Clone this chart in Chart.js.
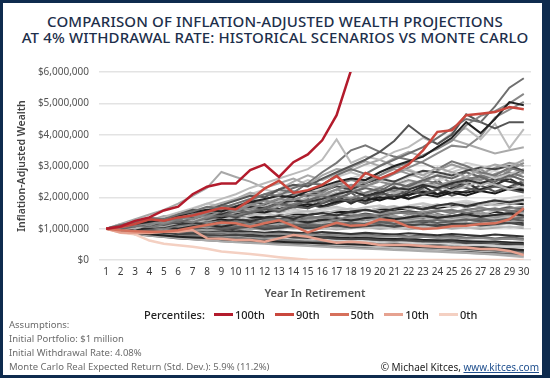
<!DOCTYPE html>
<html>
<head>
<meta charset="utf-8">
<script src="https://cdn.jsdelivr.net/npm/chart.js@4.4.1/dist/chart.umd.min.js"></script>
<style>
html,body{margin:0;padding:0;}
body{width:550px;height:378px;background:#0e2b4e;position:relative;overflow:hidden;font-family:"Noto Sans",sans-serif;}
#panel{position:absolute;left:3px;top:3px;width:539px;height:372px;background:#fff;}
#title{position:absolute;left:0;top:13px;width:550px;text-align:center;color:#1d2f4b;font-weight:500;font-size:15px;line-height:16px;letter-spacing:0.15px;}
#wrap{position:absolute;left:0;top:0;width:550px;height:378px;}
#legend{position:absolute;left:144px;top:306px;height:16px;display:flex;align-items:center;font-size:11px;font-weight:500;color:#222;}
#legend .lab{margin-right:9px;}
#legend .item{display:flex;align-items:center;margin-right:10px;}
#legend .sw{width:19px;height:3px;margin-right:2px;}
#notes{position:absolute;left:9px;top:318px;font-size:9.5px;line-height:14px;color:#6b6b6b;}
#credit{position:absolute;right:11px;top:360px;font-size:10px;line-height:14px;color:#222;}
#credit a{color:#1f4f8e;text-decoration:underline;}
</style>
</head>
<body>
<div id="panel"></div>
<div id="title">COMPARISON OF INFLATION-ADJUSTED WEALTH PROJECTIONS<br>AT 4% WITHDRAWAL RATE: HISTORICAL SCENARIOS VS MONTE CARLO</div>
<div id="wrap"><canvas id="c" width="550" height="378"></canvas></div>
<div id="legend"></div>
<div id="notes">Assumptions:<br>Initial Portfolio: $1 million<br>Initial Withdrawal Rate: 4.08%<br>Monte Carlo Real Expected Return (Std. Dev.): 5.9% (11.2%)</div>
<div id="credit">© Michael Kitces, <a>www.kitces.com</a></div>
<script>
// ---- data (values in $ millions, inflation-adjusted) ----
const years = ['1','2','3','4','5','6','7','8','9','10','11','12','13','14','15','16','17','18','19','20','21','22','23','24','25','26','27','28','29','30'];
const yTicks = [0,1000000,2000000,3000000,4000000,5000000,6000000];

const percentileLabels = ['100th','90th','50th','10th','0th'];
const p100 = [1.00,1.07,1.25,1.36,1.58,1.70,2.10,2.34,2.44,2.44,2.87,3.05,2.65,3.12,3.37,3.82,4.62,6.05,6.90,7.60,8.30,9.00,9.80,10.6,11.5,12.4,13.3,14.2,15.2,16.3];
const p90  = [1.00,1.05,1.15,1.30,1.25,1.36,1.42,1.54,1.66,1.62,1.91,2.28,2.53,2.14,2.23,2.40,2.68,2.28,2.78,2.60,2.79,3.05,3.50,4.09,4.14,4.62,4.67,4.72,4.88,4.81];
const p50  = [1.00,0.95,0.92,0.90,0.90,0.95,1.04,1.12,1.20,1.17,1.06,1.17,1.27,1.09,0.88,1.04,1.19,1.09,1.12,1.30,1.25,1.06,0.99,1.01,1.08,1.09,1.15,1.17,1.30,1.65];
const p10  = [1.00,0.88,0.86,0.86,0.90,0.90,0.96,0.69,0.68,0.64,0.64,0.58,0.69,0.80,0.74,0.64,0.55,0.58,0.55,0.48,0.48,0.48,0.45,0.42,0.40,0.40,0.35,0.35,0.29,0.16];
const p0   = [1.00,0.87,0.82,0.62,0.52,0.47,0.42,0.36,0.27,0.23,0.19,0.14,0.09,0.05,0.01,0,0,0,0,0,0,0,0,0,0,0,0,0,0,0];

const scenarios = [
 [1.00,1.12,1.20,1.35,1.30,1.45,1.55,1.70,1.65,1.80,1.95,2.10,2.05,2.30,2.45,2.40,2.70,2.90,2.75,3.00,3.20,3.40,3.60,3.90,4.20,4.50,4.40,4.90,5.50,5.80],
 [1.00,1.08,1.15,1.22,1.30,1.40,1.52,1.60,1.55,1.70,1.85,1.95,2.05,2.00,2.20,2.35,2.50,2.60,2.55,2.80,3.00,3.15,3.30,3.60,3.90,4.40,4.05,4.50,5.04,4.94],
 [1.00,1.05,1.18,1.10,1.25,1.38,1.30,1.50,1.62,1.55,1.75,1.90,1.80,2.05,2.20,2.15,2.40,2.55,2.45,2.70,2.95,3.10,3.35,3.55,3.80,4.30,4.60,4.75,5.00,5.30],
 [1.00,1.10,1.22,1.30,1.25,1.45,1.60,1.55,1.75,1.90,2.05,2.00,2.25,2.40,2.35,2.60,2.80,3.00,3.20,3.45,3.80,4.30,3.95,3.70,4.00,4.65,4.40,4.20,4.40,4.40],
 [1.00,1.06,1.15,1.28,1.35,1.50,1.62,1.80,1.95,2.10,2.30,2.45,2.60,2.75,2.90,3.20,3.85,3.10,3.30,3.20,3.45,3.60,3.90,3.70,4.05,4.20,3.85,4.35,3.57,4.18],
 [1.00,1.15,1.30,1.45,1.60,1.80,2.05,2.30,2.81,2.65,2.50,2.30,2.45,2.60,2.40,2.70,2.90,2.85,3.05,3.20,3.00,2.85,2.70,2.95,2.80,2.65,2.90,3.05,2.95,3.20],
 [1.00,1.12,1.08,1.20,1.32,1.28,1.45,1.60,1.75,1.70,1.90,2.10,2.25,2.15,2.45,2.80,3.10,3.50,3.66,3.45,3.30,3.20,3.10,2.90,3.15,3.00,2.80,2.70,2.95,2.80],
 [1.00,1.04,1.12,1.20,1.18,1.30,1.42,1.38,1.55,1.68,1.62,1.80,1.95,1.90,2.10,2.05,2.25,2.40,2.35,2.55,2.75,2.95,3.15,3.40,3.65,3.60,3.95,4.55,4.80,5.05],
 [1.00,1.09,1.17,1.26,1.40,1.36,1.50,1.68,1.82,1.95,2.15,2.00,2.25,2.50,2.70,2.55,2.75,2.95,3.15,3.00,3.25,3.45,3.30,3.60,3.85,3.70,3.55,3.40,3.50,3.60],
 [1.00,1.10,1.18,1.28,1.20,1.35,1.48,1.60,1.55,1.72,1.85,1.78,1.95,2.10,2.05,2.20,2.35,2.25,2.45,2.60,2.50,2.70,2.85,2.80,2.70,2.85,2.95,2.90,3.00,2.85],
 [1.00,1.05,1.15,1.22,1.35,1.45,1.40,1.55,1.70,1.62,1.80,1.92,2.10,2.20,2.05,2.25,2.45,2.30,2.55,2.70,2.90,2.75,2.60,2.85,3.05,2.90,2.75,2.95,3.10,3.00],
 [1.00,0.98,1.08,1.18,1.25,1.20,1.32,1.45,1.40,1.58,1.50,1.65,1.80,1.72,1.90,2.05,1.95,2.15,2.30,2.20,2.45,2.35,2.55,2.70,2.60,2.80,2.65,2.50,2.70,2.55],
 [1.00,1.12,1.25,1.20,1.38,1.52,1.65,1.80,1.72,1.95,2.10,2.25,2.15,2.35,2.55,2.40,2.65,2.80,2.65,2.50,2.75,2.90,2.70,2.55,2.80,2.95,2.80,2.60,2.75,2.90],
 [1.00,1.06,1.14,1.10,1.22,1.30,1.42,1.50,1.45,1.58,1.70,1.65,1.82,1.90,1.85,1.95,2.10,2.20,2.05,2.15,2.30,2.25,2.40,2.30,2.45,2.55,2.45,2.60,2.50,2.40],
 [1.00,1.02,1.10,1.05,1.15,1.25,1.20,1.35,1.48,1.42,1.55,1.68,1.60,1.78,1.92,1.85,2.05,1.95,2.15,2.30,2.20,2.40,2.55,2.45,2.35,2.55,2.70,2.60,2.80,2.65],
 [1.00,1.08,1.00,1.12,1.20,1.30,1.25,1.40,1.52,1.65,1.58,1.72,1.88,1.80,2.00,2.15,2.05,2.25,2.40,2.30,2.15,2.30,2.45,2.35,2.20,2.35,2.50,2.40,2.25,2.35],
 [1.00,1.04,1.10,1.18,1.12,1.22,1.35,1.30,1.42,1.38,1.50,1.62,1.55,1.70,1.65,1.80,1.95,1.88,2.00,2.12,2.05,2.20,2.10,2.25,2.40,2.30,2.20,2.35,2.25,2.15],
 [1.00,1.14,1.24,1.36,1.30,1.44,1.58,1.50,1.66,1.80,1.95,1.85,2.00,2.20,2.10,2.30,2.45,2.60,2.75,2.60,2.45,2.65,2.80,2.70,2.90,3.10,3.00,2.85,3.05,3.15],
 [1.00,1.03,1.08,1.15,1.22,1.18,1.28,1.38,1.35,1.45,1.55,1.52,1.62,1.70,1.78,1.72,1.85,1.95,1.90,2.00,1.95,2.08,2.18,2.10,2.20,2.15,2.25,2.35,2.30,2.25],
 [1.00,1.10,1.05,1.15,1.28,1.22,1.38,1.52,1.45,1.60,1.75,1.68,1.82,1.95,1.90,2.10,2.25,2.15,2.35,2.50,2.40,2.55,2.45,2.30,2.50,2.65,2.55,2.75,2.90,3.10],
 [1.00,0.96,1.04,1.12,1.08,1.18,1.30,1.26,1.38,1.50,1.45,1.60,1.72,1.66,1.80,1.92,2.05,1.98,2.12,2.25,2.18,2.32,2.45,2.38,2.52,2.45,2.60,2.70,2.62,2.78],
 [1.00,1.05,1.02,1.10,1.06,1.14,1.20,1.12,1.22,1.30,1.24,1.34,1.40,1.32,1.44,1.50,1.42,1.55,1.60,1.52,1.64,1.70,1.62,1.74,1.80,1.72,1.82,1.90,1.84,1.92],
 [1.00,0.97,1.03,1.08,1.00,1.10,1.16,1.08,1.18,1.24,1.15,1.26,1.30,1.22,1.34,1.38,1.28,1.40,1.45,1.36,1.48,1.52,1.44,1.55,1.60,1.50,1.58,1.65,1.56,1.62],
 [1.00,1.08,1.14,1.06,1.16,1.24,1.18,1.28,1.36,1.30,1.40,1.48,1.40,1.50,1.56,1.48,1.58,1.64,1.55,1.66,1.72,1.62,1.70,1.78,1.68,1.76,1.82,1.74,1.80,1.86],
 [1.00,1.00,0.96,1.02,1.06,1.00,1.08,1.12,1.06,1.14,1.20,1.15,1.22,1.26,1.20,1.28,1.32,1.26,1.34,1.38,1.30,1.36,1.42,1.35,1.40,1.46,1.38,1.44,1.48,1.42],
 [1.00,0.94,0.98,1.04,0.98,1.06,1.10,1.04,1.12,1.18,1.10,1.20,1.16,1.24,1.30,1.22,1.28,1.35,1.28,1.34,1.40,1.32,1.38,1.45,1.36,1.42,1.48,1.40,1.46,1.52],
 [1.00,1.04,0.98,0.94,1.00,0.96,1.02,1.06,1.00,1.05,1.10,1.04,1.08,1.14,1.08,1.12,1.18,1.12,1.16,1.22,1.15,1.20,1.26,1.18,1.24,1.30,1.22,1.26,1.32,1.25],
 [1.00,1.06,1.12,1.20,1.28,1.22,1.32,1.40,1.34,1.44,1.52,1.46,1.56,1.62,1.54,1.64,1.70,1.60,1.68,1.74,1.64,1.72,1.80,1.70,1.78,1.84,1.74,1.82,1.88,1.95],
 [1.00,0.98,0.94,0.98,1.02,0.96,1.00,1.04,0.98,1.02,1.06,1.00,1.04,1.08,1.02,1.06,1.10,1.04,1.08,1.12,1.06,1.10,1.14,1.08,1.12,1.16,1.10,1.14,1.18,1.12],
 [1.00,1.02,1.08,1.04,1.10,1.16,1.12,1.18,1.24,1.18,1.26,1.32,1.26,1.34,1.40,1.34,1.42,1.48,1.40,1.46,1.54,1.46,1.52,1.60,1.52,1.58,1.66,1.58,1.64,1.70],
 [1.00,1.04,1.10,1.16,1.14,1.20,1.26,1.30,1.28,1.34,1.38,1.36,1.42,1.46,1.44,1.50,1.54,1.52,1.58,1.62,1.60,1.64,1.70,1.66,1.72,1.76,1.74,1.80,1.82,1.78],
 [1.00,0.95,0.92,0.96,0.90,0.95,1.00,0.94,0.98,1.04,0.98,1.02,1.08,1.02,1.06,1.12,1.06,1.10,1.16,1.10,1.14,1.20,1.14,1.18,1.24,1.18,1.22,1.28,1.22,1.26],
 [1.00,1.06,1.02,1.08,1.14,1.08,1.14,1.20,1.14,1.20,1.26,1.18,1.24,1.30,1.22,1.28,1.34,1.26,1.32,1.38,1.30,1.36,1.42,1.34,1.40,1.46,1.38,1.44,1.50,1.56],
 [1.00,1.10,1.04,1.14,1.22,1.16,1.26,1.34,1.28,1.38,1.46,1.38,1.48,1.56,1.48,1.58,1.66,1.56,1.66,1.74,1.64,1.74,1.82,1.72,1.82,1.90,1.80,1.90,1.98,2.05],
 [1.00,0.96,1.00,0.95,0.99,1.04,0.98,1.03,1.08,1.02,1.07,1.12,1.06,1.11,1.16,1.10,1.15,1.20,1.14,1.19,1.24,1.18,1.23,1.28,1.22,1.27,1.32,1.26,1.31,1.36],
 [1.00,0.98,1.02,0.97,1.02,1.07,1.01,1.06,1.12,1.06,1.12,1.18,1.10,1.16,1.22,1.15,1.20,1.26,1.18,1.24,1.30,1.22,1.28,1.34,1.26,1.32,1.38,1.30,1.36,1.30],
 [1.00,0.99,0.95,0.92,0.96,0.93,0.97,1.01,0.96,1.00,1.04,0.99,1.03,1.07,1.02,1.06,1.10,1.05,1.09,1.13,1.08,1.12,1.16,1.11,1.15,1.19,1.14,1.18,1.22,1.17],
 [1.00,1.03,0.99,1.05,1.10,1.06,1.13,1.18,1.12,1.20,1.26,1.20,1.28,1.22,1.30,1.36,1.28,1.34,1.40,1.32,1.38,1.30,1.36,1.42,1.34,1.40,1.32,1.38,1.44,1.38],
 [1.00,0.97,0.93,0.97,1.01,0.95,0.99,1.04,0.98,1.02,0.97,1.01,1.06,1.00,1.04,0.99,1.03,1.08,1.02,1.06,1.00,1.04,1.09,1.03,1.07,1.01,1.05,1.10,1.04,1.08],
 [1.00,1.05,1.11,1.07,1.14,1.20,1.15,1.22,1.28,1.22,1.30,1.36,1.30,1.38,1.32,1.40,1.46,1.40,1.48,1.42,1.50,1.56,1.50,1.58,1.52,1.60,1.66,1.60,1.68,1.62],
 [1.00,1.01,0.97,1.01,0.96,1.00,0.95,0.99,1.03,0.97,1.01,0.96,1.00,1.04,0.98,1.02,0.97,1.01,1.05,0.99,1.03,0.98,1.02,1.06,1.00,1.04,0.99,1.03,1.07,1.01],
 [1.00,0.92,0.86,0.82,0.78,0.74,0.72,0.70,0.66,0.64,0.62,0.60,0.58,0.56,0.55,0.53,0.52,0.50,0.49,0.48,0.46,0.45,0.44,0.42,0.41,0.40,0.38,0.36,0.34,0.32],
 [1.00,0.94,0.88,0.84,0.80,0.76,0.78,0.74,0.70,0.72,0.68,0.64,0.66,0.62,0.58,0.60,0.56,0.52,0.54,0.50,0.46,0.48,0.44,0.40,0.42,0.38,0.34,0.30,0.26,0.22],
 [1.00,0.90,0.84,0.78,0.74,0.70,0.66,0.62,0.60,0.57,0.54,0.52,0.49,0.47,0.45,0.42,0.40,0.38,0.36,0.34,0.32,0.30,0.28,0.26,0.24,0.22,0.20,0.18,0.15,0.12],
 [1.00,0.95,0.92,0.88,0.86,0.82,0.84,0.80,0.78,0.80,0.76,0.74,0.76,0.72,0.70,0.72,0.68,0.66,0.68,0.64,0.62,0.64,0.60,0.58,0.60,0.56,0.54,0.56,0.52,0.50],
 [1.00,0.93,0.90,0.86,0.82,0.84,0.80,0.77,0.79,0.75,0.72,0.74,0.70,0.67,0.69,0.65,0.62,0.64,0.60,0.57,0.59,0.55,0.52,0.54,0.50,0.47,0.49,0.45,0.42,0.44],
 [1.00,0.96,0.90,0.93,0.88,0.84,0.87,0.82,0.78,0.81,0.76,0.72,0.75,0.70,0.66,0.69,0.64,0.60,0.63,0.58,0.54,0.57,0.52,0.48,0.51,0.46,0.42,0.38,0.34,0.30],
 [1.00,0.97,0.94,0.90,0.92,0.88,0.90,0.86,0.88,0.84,0.86,0.82,0.84,0.80,0.82,0.78,0.80,0.76,0.78,0.74,0.76,0.72,0.74,0.70,0.72,0.68,0.70,0.66,0.68,0.64],
 [1.00,0.98,0.95,0.92,0.90,0.88,0.86,0.85,0.83,0.82,0.80,0.79,0.78,0.76,0.75,0.74,0.72,0.71,0.70,0.68,0.67,0.66,0.64,0.63,0.62,0.60,0.59,0.58,0.56,0.55],
 [1.00,0.91,0.85,0.80,0.76,0.73,0.70,0.68,0.65,0.63,0.61,0.59,0.57,0.55,0.52,0.50,0.48,0.46,0.44,0.41,0.38,0.35,0.32,0.29,0.26,0.23,0.20,0.17,0.13,0.09],
 [1.00,0.89,0.82,0.77,0.73,0.69,0.66,0.63,0.60,0.58,0.56,0.54,0.52,0.50,0.48,0.46,0.44,0.42,0.40,0.38,0.36,0.34,0.32,0.30,0.28,0.26,0.24,0.22,0.20,0.18],
 [1.00,0.96,0.93,0.97,0.94,0.91,0.95,0.92,0.89,0.93,0.90,0.87,0.91,0.88,0.85,0.89,0.86,0.83,0.87,0.84,0.81,0.85,0.82,0.79,0.83,0.80,0.77,0.81,0.78,0.75],
 [1.00,0.92,0.96,0.90,0.86,0.90,0.84,0.80,0.84,0.78,0.74,0.78,0.72,0.69,0.73,0.67,0.64,0.68,0.62,0.59,0.63,0.57,0.54,0.58,0.52,0.49,0.53,0.47,0.44,0.48],
 [1.00,0.94,0.89,0.85,0.81,0.78,0.75,0.72,0.70,0.67,0.65,0.63,0.60,0.58,0.56,0.54,0.52,0.50,0.48,0.46,0.44,0.42,0.40,0.38,0.36,0.34,0.32,0.30,0.28,0.26],
 [1.00,0.95,0.90,0.86,0.83,0.80,0.77,0.75,0.73,0.71,0.69,0.68,0.66,0.65,0.63,0.62,0.60,0.59,0.57,0.56,0.54,0.53,0.51,0.50,0.48,0.47,0.45,0.44,0.42,0.40],
 [1.00,1.12,1.02,1.18,1.30,1.15,1.35,1.48,1.30,1.52,1.70,1.50,1.72,1.90,1.65,1.88,2.05,1.80,2.02,2.20,1.95,2.15,2.35,2.10,2.30,2.50,2.20,2.40,2.60,2.35],
 [1.00,0.90,1.02,0.92,1.05,0.95,1.10,0.98,1.15,1.02,1.20,1.06,1.25,1.10,1.30,1.14,1.34,1.18,1.38,1.22,1.42,1.25,1.46,1.28,1.50,1.32,1.55,1.35,1.58,1.40],
 [1.00,1.08,1.20,1.05,1.22,1.38,1.20,1.40,1.58,1.36,1.55,1.75,1.50,1.72,1.95,1.68,1.90,2.15,1.85,2.10,2.35,2.05,2.30,2.55,2.20,2.45,2.70,2.40,2.65,2.90],
 [1.00,1.02,0.92,1.00,1.10,0.98,1.08,1.18,1.04,1.14,1.25,1.10,1.20,1.32,1.16,1.27,1.40,1.22,1.34,1.48,1.30,1.42,1.56,1.36,1.50,1.64,1.44,1.58,1.72,1.52],
 [1.00,1.06,1.14,1.24,1.18,1.30,1.42,1.36,1.50,1.62,1.55,1.70,1.62,1.78,1.70,1.85,1.95,1.86,2.00,1.90,2.05,1.96,2.10,2.02,2.15,2.06,2.20,2.12,2.28,2.20],
 [1.00,0.93,0.88,0.95,0.88,0.82,0.90,0.84,0.78,0.86,0.80,0.74,0.82,0.76,0.70,0.78,0.72,0.66,0.74,0.68,0.62,0.70,0.64,0.58,0.66,0.60,0.54,0.60,0.55,0.50],
 [1.00,1.15,1.05,1.20,1.34,1.22,1.40,1.55,1.40,1.58,1.76,1.60,1.80,1.98,1.78,1.96,2.16,1.95,2.12,2.32,2.10,2.28,2.48,2.24,2.42,2.62,2.38,2.55,2.75,2.50],
 [1.00,0.97,1.04,0.99,0.94,1.01,0.96,1.04,0.99,1.08,1.02,1.10,1.04,1.13,1.07,1.16,1.10,1.19,1.12,1.22,1.15,1.25,1.18,1.28,1.21,1.31,1.24,1.34,1.27,1.37],
 [1.00,1.10,1.20,1.32,1.24,1.38,1.50,1.42,1.56,1.70,1.60,1.74,1.90,1.78,1.94,2.10,1.96,2.14,2.30,2.15,2.32,2.50,2.32,2.50,2.68,2.48,2.66,2.86,2.64,2.82],
 [1.00,0.95,0.99,0.93,0.97,0.91,0.95,0.89,0.93,0.87,0.91,0.85,0.89,0.83,0.87,0.81,0.85,0.79,0.83,0.77,0.81,0.75,0.79,0.73,0.77,0.71,0.75,0.69,0.73,0.67],
 [1.00,1.04,1.00,1.08,1.03,1.11,1.06,1.15,1.09,1.18,1.12,1.22,1.15,1.26,1.19,1.30,1.23,1.34,1.27,1.38,1.31,1.42,1.35,1.46,1.39,1.50,1.43,1.54,1.47,1.58],
 [1.00,0.92,0.85,0.90,0.83,0.78,0.84,0.77,0.72,0.78,0.71,0.66,0.72,0.65,0.60,0.66,0.59,0.54,0.60,0.53,0.48,0.54,0.47,0.42,0.48,0.41,0.36,0.42,0.35,0.30],
 [1.00,1.09,1.18,1.12,1.24,1.35,1.26,1.38,1.50,1.40,1.52,1.65,1.52,1.66,1.80,1.66,1.80,1.95,1.80,1.95,2.10,1.94,2.08,2.25,2.05,2.20,2.38,2.18,2.34,2.52],
 [1.00,1.01,1.05,0.98,1.03,1.09,1.02,1.07,1.14,1.06,1.12,1.19,1.10,1.16,1.24,1.14,1.21,1.29,1.19,1.26,1.34,1.23,1.30,1.39,1.28,1.35,1.44,1.32,1.40,1.49],
 [1.00,0.96,0.91,0.87,0.90,0.86,0.82,0.85,0.81,0.77,0.80,0.76,0.72,0.75,0.71,0.67,0.70,0.66,0.62,0.65,0.61,0.57,0.60,0.56,0.52,0.55,0.51,0.47,0.50,0.46],
 [1.00,1.13,1.26,1.18,1.32,1.46,1.36,1.52,1.68,1.56,1.72,1.90,1.74,1.92,2.10,1.92,2.12,2.32,2.10,2.30,2.52,2.28,2.48,2.70,2.45,2.66,2.90,2.62,2.85,3.10],
 [1.00,0.99,1.06,1.13,1.07,1.15,1.22,1.16,1.24,1.32,1.24,1.33,1.42,1.33,1.42,1.52,1.42,1.52,1.62,1.50,1.60,1.72,1.60,1.70,1.82,1.68,1.80,1.92,1.78,1.90],
 [1.00,0.94,0.99,1.05,0.97,1.03,1.10,1.01,1.08,1.15,1.05,1.12,1.20,1.09,1.16,1.25,1.13,1.21,1.30,1.17,1.25,1.35,1.21,1.30,1.40,1.25,1.35,1.45,1.30,1.40],
 [1.00,0.93,0.97,0.89,0.84,0.88,0.80,0.76,0.80,0.72,0.69,0.73,0.66,0.63,0.67,0.60,0.57,0.61,0.54,0.51,0.55,0.48,0.45,0.49,0.42,0.39,0.43,0.36,0.33,0.30],
 [1.00,1.07,1.16,1.26,1.36,1.30,1.42,1.55,1.46,1.60,1.74,1.62,1.78,1.66,1.82,1.98,1.84,2.00,1.86,2.04,2.22,2.06,2.24,2.08,2.26,2.44,2.26,2.46,2.28,2.48]
];

// ---- styles ----
const percentileColors = ['#b31b2c','#c9473d','#d6705b','#e6a290','#f4d0c2'];
const grayShades = ['#6f6f6f','#222222','#888888','#555555','#bbbbbb','#a8a8a8','#777777','#8a8a8a','#aaaaaa',
 '#444444','#999999','#666666','#c4c4c4','#333333','#7a7a7a','#b0b0b0','#585858','#d0d0d0','#1e1e1e','#8c8c8c','#a5a5a5',
 '#333333','#777777','#bbbbbb','#2a2a2a','#999999','#606060','#c8c8c8','#484848','#8a8a8a','#1a1a1a','#a0a0a0','#555555',
 '#d5d5d5','#6a6a6a','#b5b5b5','#3c3c3c','#909090','#c0c0c0','#4f4f4f','#adadad',
 '#222222','#777777','#aaaaaa','#444444','#cfcfcf','#5a5a5a','#8a8a8a','#1f1f1f','#b8b8b8','#666666','#333333','#9a9a9a','#4a4a4a','#c4c4c4',
 '#303030','#9c9c9c','#5c5c5c','#c2c2c2','#181818','#7f7f7f','#b2b2b2','#404040','#d8d8d8','#686868',
 '#262626','#a3a3a3','#545454','#bdbdbd','#2e2e2e','#8e8e8e','#707070','#cacaca','#3a3a3a','#959595'];

const M = 1000000;
const toDollars = a => a.map(v => v * M);
const percentileSeries = [p100, p90, p50, p10, p0];

const datasets = [];
percentileSeries.forEach((s, i) => {
  datasets.push({label: percentileLabels[i], data: toDollars(s), borderColor: percentileColors[i], backgroundColor: percentileColors[i],
    borderWidth: 2.5, pointRadius: 0, tension: 0, order: i});
});
scenarios.forEach((s, i) => {
  datasets.push({label: 'Scenario ' + (i + 1), data: toDollars(s), borderColor: grayShades[i % grayShades.length],
    borderWidth: 2, pointRadius: 0, tension: 0, order: 10});
});

// legend (HTML) built from the same labels/colours
const lg = document.getElementById('legend');
const lab = document.createElement('span'); lab.className = 'lab'; lab.textContent = 'Percentiles:'; lg.appendChild(lab);
percentileLabels.forEach((l, i) => {
  const it = document.createElement('span'); it.className = 'item';
  const sw = document.createElement('span'); sw.className = 'sw'; sw.style.background = percentileColors[i];
  const tx = document.createElement('span'); tx.textContent = l;
  it.appendChild(sw); it.appendChild(tx); lg.appendChild(it);
});

new Chart(document.getElementById('c'), {
  type: 'line',
  data: {labels: years, datasets: datasets},
  options: {
    responsive: false,
    animation: false,
    events: [],
    layout: {padding: {left: 12, right: 19, top: 72, bottom: 74}},
    plugins: {legend: {display: false}, tooltip: {enabled: false}, title: {display: false}},
    scales: {
      x: {
        offset: true,
        grid: {display: false, drawTicks: false},
        border: {display: false},
        ticks: {autoSkip: false, maxRotation: 0, padding: 6, color: '#3a3a3a', font: {family: 'Noto Sans', size: 10}},
        title: {display: true, text: 'Year In Retirement', color: '#555555', font: {family: 'Noto Sans', size: 11, weight: '600'}, padding: {top: 4, bottom: 4}},
        afterFit: s => { s.height = 44; }
      },
      y: {
        min: 0, max: 6 * M,
        afterBuildTicks: s => { s.ticks = yTicks.map(v => ({value: v})); },
        grid: {color: '#e3e3e3', lineWidth: 1.5, drawTicks: false},
        border: {display: false},
        ticks: {padding: 10, color: '#555555', font: {family: 'Noto Sans', size: 10},
          callback: v => '$' + Number(v).toLocaleString('en-US')},
        title: {display: true, text: 'Inflation-Adjusted Wealth', color: '#444444', font: {family: 'Noto Sans', size: 10.5, weight: '600'}, padding: {top: 4, bottom: 4}},
        afterFit: s => { s.width = 87; }
      }
    }
  }
});
</script>
</body>
</html>
